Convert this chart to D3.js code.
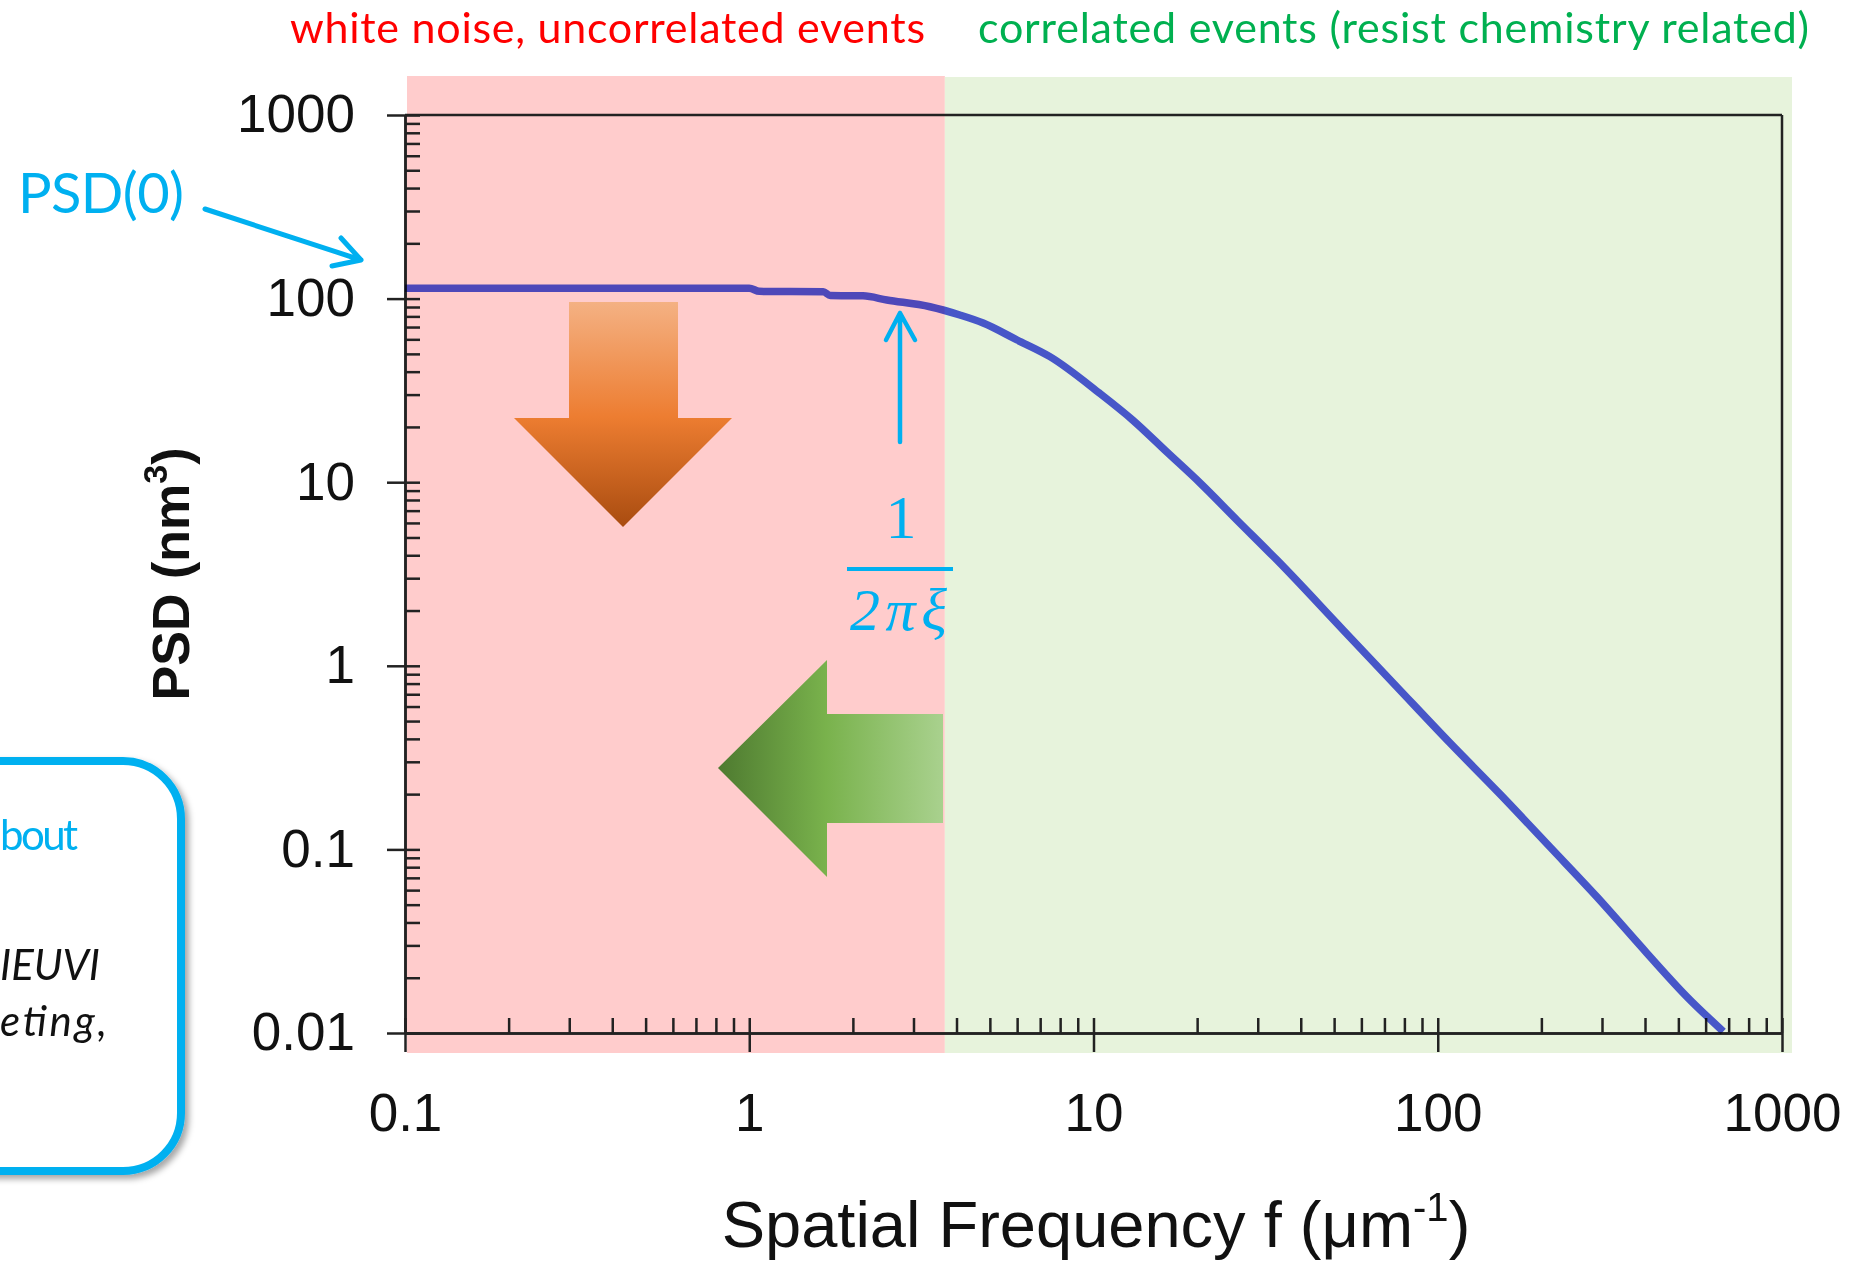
<!DOCTYPE html>
<html>
<head>
<meta charset="utf-8">
<script src="https://cdn.jsdelivr.net/npm/d3@7"></script>
<style>
  body { margin: 0; background: #fff; }
  svg { display: block; }
</style>
</head>
<body>
<div id="chart"></div>
<script>
// curve: spatial frequency (um^-1) and PSD (nm^3)
const freq = [0.1, 1.0, 1.07, 1.64, 1.72, 2.14, 2.51, 3.35, 4.09, 4.78, 6.0, 7.47, 10.4, 13.0, 16.4, 20.4, 26.1, 34.1, 53.1, 76.0, 108.5, 151.7, 211.9, 289.5, 404.6, 528.7, 675]
const psd = [114, 114, 109.5, 109, 104, 103.5, 98.3, 90.3, 81.4, 73.6, 59.5, 48.3, 30.6, 21.8, 14.5, 9.9, 6.22, 3.77, 1.567, 0.769, 0.38, 0.2, 0.103, 0.0553, 0.0273, 0.0158, 0.0102]

const xMajor = [0.1, 1, 10, 100, 1000]
const xLabels = ['0.1', '1', '10', '100', '1000']
const yMajor = [0.01, 0.1, 1, 10, 100, 1000]
const yLabels = ['0.01', '0.1', '1', '10', '100', '1000']
const regionSplit = 3.7 // boundary between the two shaded regions
const regionTitles = ['white noise, uncorrelated events', 'correlated events (resist chemistry related)']

const width = 1855
const height = 1262
const mLeft = 405, mRight = 1782, mTop = 115, mBottom = 1033

const x = d3.scaleLog().domain([0.1, 1000]).range([mLeft, mRight])
const y = d3.scaleLog().domain([0.01, 1000]).range([mBottom, mTop])

// minor ticks: 1..9 times each decade
function logTicks (lo, hi) {
  let t = []
  for (let d = lo; d < hi * 0.999; d *= 10) {
    for (let k = 1; k <= 9; k++) t.push(+(d * k).toPrecision(3))
  }
  t.push(hi)
  return t
}

const svg = d3.select('#chart').append('svg')
  .attr('width', width)
  .attr('height', height)

const defs = svg.append('defs')
let gOr = defs.append('linearGradient').attr('id', 'gOrange')
  .attr('x1', 0).attr('y1', 0).attr('x2', 0).attr('y2', 1)
gOr.append('stop').attr('offset', '0%').attr('stop-color', '#f4b183')
gOr.append('stop').attr('offset', '51%').attr('stop-color', '#ed7d31')
gOr.append('stop').attr('offset', '100%').attr('stop-color', '#a94c10')
let gGr = defs.append('linearGradient').attr('id', 'gGreen')
  .attr('x1', 0).attr('y1', 0).attr('x2', 1).attr('y2', 0)
gGr.append('stop').attr('offset', '0%').attr('stop-color', '#4e7a30')
gGr.append('stop').attr('offset', '48%').attr('stop-color', '#79b24c')
gGr.append('stop').attr('offset', '100%').attr('stop-color', '#a9d18e')
let shadow = defs.append('filter').attr('id', 'shadow')
  .attr('x', '-20%').attr('y', '-20%').attr('width', '150%').attr('height', '150%')
shadow.append('feDropShadow').attr('dx', 4).attr('dy', 4).attr('stdDeviation', 3)
  .attr('flood-color', '#000').attr('flood-opacity', 0.35)

// shaded regions
svg.append('rect')
  .attr('x', x(0.1) + 2).attr('y', 76)
  .attr('width', x(regionSplit) - x(0.1) - 2).attr('height', 977)
  .style('fill', '#ffcccc')
svg.append('rect')
  .attr('x', x(regionSplit)).attr('y', 77)
  .attr('width', x(1000) + 10 - x(regionSplit)).attr('height', 976)
  .style('fill', '#e7f3dc')

// region titles
svg.append('text')
  .attr('x', 290).attr('y', 43)
  .attr('textLength', 635)
  .style('font-family', 'Lato').style('font-size', '43px').style('fill', '#ff0000')
  .text(regionTitles[0])
svg.append('text')
  .attr('x', 978).attr('y', 43)
  .attr('textLength', 831)
  .style('font-family', 'Lato').style('font-size', '43px').style('fill', '#00b050')
  .text(regionTitles[1])

// axes
const axisColor = '#222'
let yOut = svg.append('g')
  .attr('transform', 'translate(' + mLeft + ',0)')
  .call(d3.axisLeft(y).tickValues(yMajor).tickFormat((d, i) => yLabels[i])
    .tickSize(18).tickSizeOuter(0).tickPadding(32))
let yIn = svg.append('g')
  .attr('transform', 'translate(' + mLeft + ',0)')
  .call(d3.axisRight(y).tickValues(logTicks(0.01, 1000)).tickFormat('')
    .tickSize(15).tickSizeOuter(0))
let xOut = svg.append('g')
  .attr('transform', 'translate(0,' + mBottom + ')')
  .call(d3.axisBottom(x).tickValues(xMajor).tickFormat((d, i) => xLabels[i])
    .tickSize(19).tickSizeOuter(0).tickPadding(41))
let xIn = svg.append('g')
  .attr('transform', 'translate(0,' + mBottom + ')')
  .call(d3.axisTop(x).tickValues(logTicks(0.1, 1000)).tickFormat('')
    .tickSize(15).tickSizeOuter(0))
;[yOut, yIn, xOut, xIn].forEach(function (g) {
  g.selectAll('path, line').style('stroke', axisColor).style('stroke-width', 2.5)
  g.selectAll('text')
    .style('font-family', 'Liberation Sans, Arial, sans-serif')
    .style('font-size', '53px').style('fill', '#111')
})
// frame top and right
svg.append('line')
  .attr('x1', mLeft).attr('x2', mRight).attr('y1', mTop).attr('y2', mTop)
  .style('stroke', axisColor).style('stroke-width', 2.5)
svg.append('line')
  .attr('x1', mRight).attr('x2', mRight).attr('y1', mTop).attr('y2', mBottom)
  .style('stroke', axisColor).style('stroke-width', 2.5)

// axis titles
let xt = svg.append('text')
  .attr('x', 1096).attr('y', 1247)
  .attr('text-anchor', 'middle')
  .style('font-family', 'Liberation Sans, Arial, sans-serif').style('font-size', '65px').style('fill', '#111')
xt.append('tspan').text('Spatial Frequency f (\u03bcm')
xt.append('tspan').attr('dy', -26).style('font-size', '40px').text('-1')
xt.append('tspan').attr('dy', 26).text(')')

let yt = svg.append('text')
  .attr('transform', 'translate(189,574) rotate(-90)')
  .attr('text-anchor', 'middle')
  .style('font-family', 'Liberation Sans, Arial, sans-serif').style('font-weight', 'bold')
  .style('font-size', '52px').style('fill', '#111')
yt.append('tspan').text('PSD (nm')
yt.append('tspan').attr('dy', -22).style('font-size', '34px').text('3')
yt.append('tspan').attr('dy', 22).text(')')

// PSD curve
const line = d3.line()
  .x(function (d, i) { return x(freq[i]) })
  .y(function (d, i) { return y(psd[i]) })
  .curve(d3.curveMonotoneX)
svg.append('path')
  .attr('d', line(freq))
  .style('fill', 'none')
  .style('stroke', 'rgb(78,90,232)')
  .style('stroke-width', 7.5)
  .style('stroke-linejoin', 'round')
  .style('mix-blend-mode', 'multiply')

// big arrows
svg.append('path')
  .attr('d', 'M569,302 L678,302 L678,418 L732,418 L623,527 L514,418 L569,418 Z')
  .style('fill', 'url(#gOrange)')
svg.append('path')
  .attr('d', 'M718,768 L827,660 L827,714 L943,714 L943,823 L827,823 L827,877 Z')
  .style('fill', 'url(#gGreen)')

// PSD(0) annotation
const cyan = '#00b0f0'
svg.append('text')
  .attr('x', 18).attr('y', 213)
  .attr('textLength', 166)
  .style('font-family', 'Lato').style('font-size', '56px').style('fill', cyan)
  .text('PSD(0)')
svg.append('path')
  .attr('d', 'M205,209 L361,260 M341,238 L361,260 L332,266')
  .style('fill', 'none').style('stroke', cyan).style('stroke-width', 5)
  .style('stroke-linecap', 'round').style('stroke-linejoin', 'round')

// correlation length marker
svg.append('path')
  .attr('d', 'M900,442 L900,313 M886,340 L900,313 L915,340')
  .style('fill', 'none').style('stroke', cyan).style('stroke-width', 4.5)
  .style('stroke-linecap', 'round').style('stroke-linejoin', 'round')
svg.append('text')
  .attr('x', 901).attr('y', 538).attr('text-anchor', 'middle')
  .style('font-family', 'Liberation Serif, serif').style('font-size', '62px').style('fill', cyan)
  .text('1')
svg.append('line')
  .attr('x1', 847).attr('x2', 953).attr('y1', 569).attr('y2', 569)
  .style('stroke', cyan).style('stroke-width', 4)
svg.append('text')
  .attr('x', 850).attr('y', 630)
  .attr('textLength', 97)
  .style('font-family', 'Liberation Serif, serif').style('font-style', 'italic')
  .style('font-size', '60px').style('fill', cyan)
  .text('2\u03c0\u03be')

// note box, cut by the left edge
svg.append('rect')
  .attr('x', -120).attr('y', 761)
  .attr('width', 301).attr('height', 410)
  .attr('rx', 58).attr('ry', 58)
  .style('fill', '#fff').style('stroke', cyan).style('stroke-width', 8)
  .attr('filter', 'url(#shadow)')
svg.append('text')
  .attr('x', 0).attr('y', 850).attr('textLength', 78)
  .style('font-family', 'Lato').style('font-size', '42px').style('fill', cyan)
  .text('bout')
svg.append('text')
  .attr('x', 0).attr('y', 980).attr('textLength', 100)
  .style('font-family', 'Lato').style('font-style', 'italic').style('font-size', '42px').style('fill', '#111')
  .text('IEUVI')
svg.append('text')
  .attr('x', 0).attr('y', 1036).attr('textLength', 107)
  .style('font-family', 'Lato').style('font-style', 'italic').style('font-size', '42px').style('fill', '#111')
  .text('eting,')
</script>
</body>
</html>
